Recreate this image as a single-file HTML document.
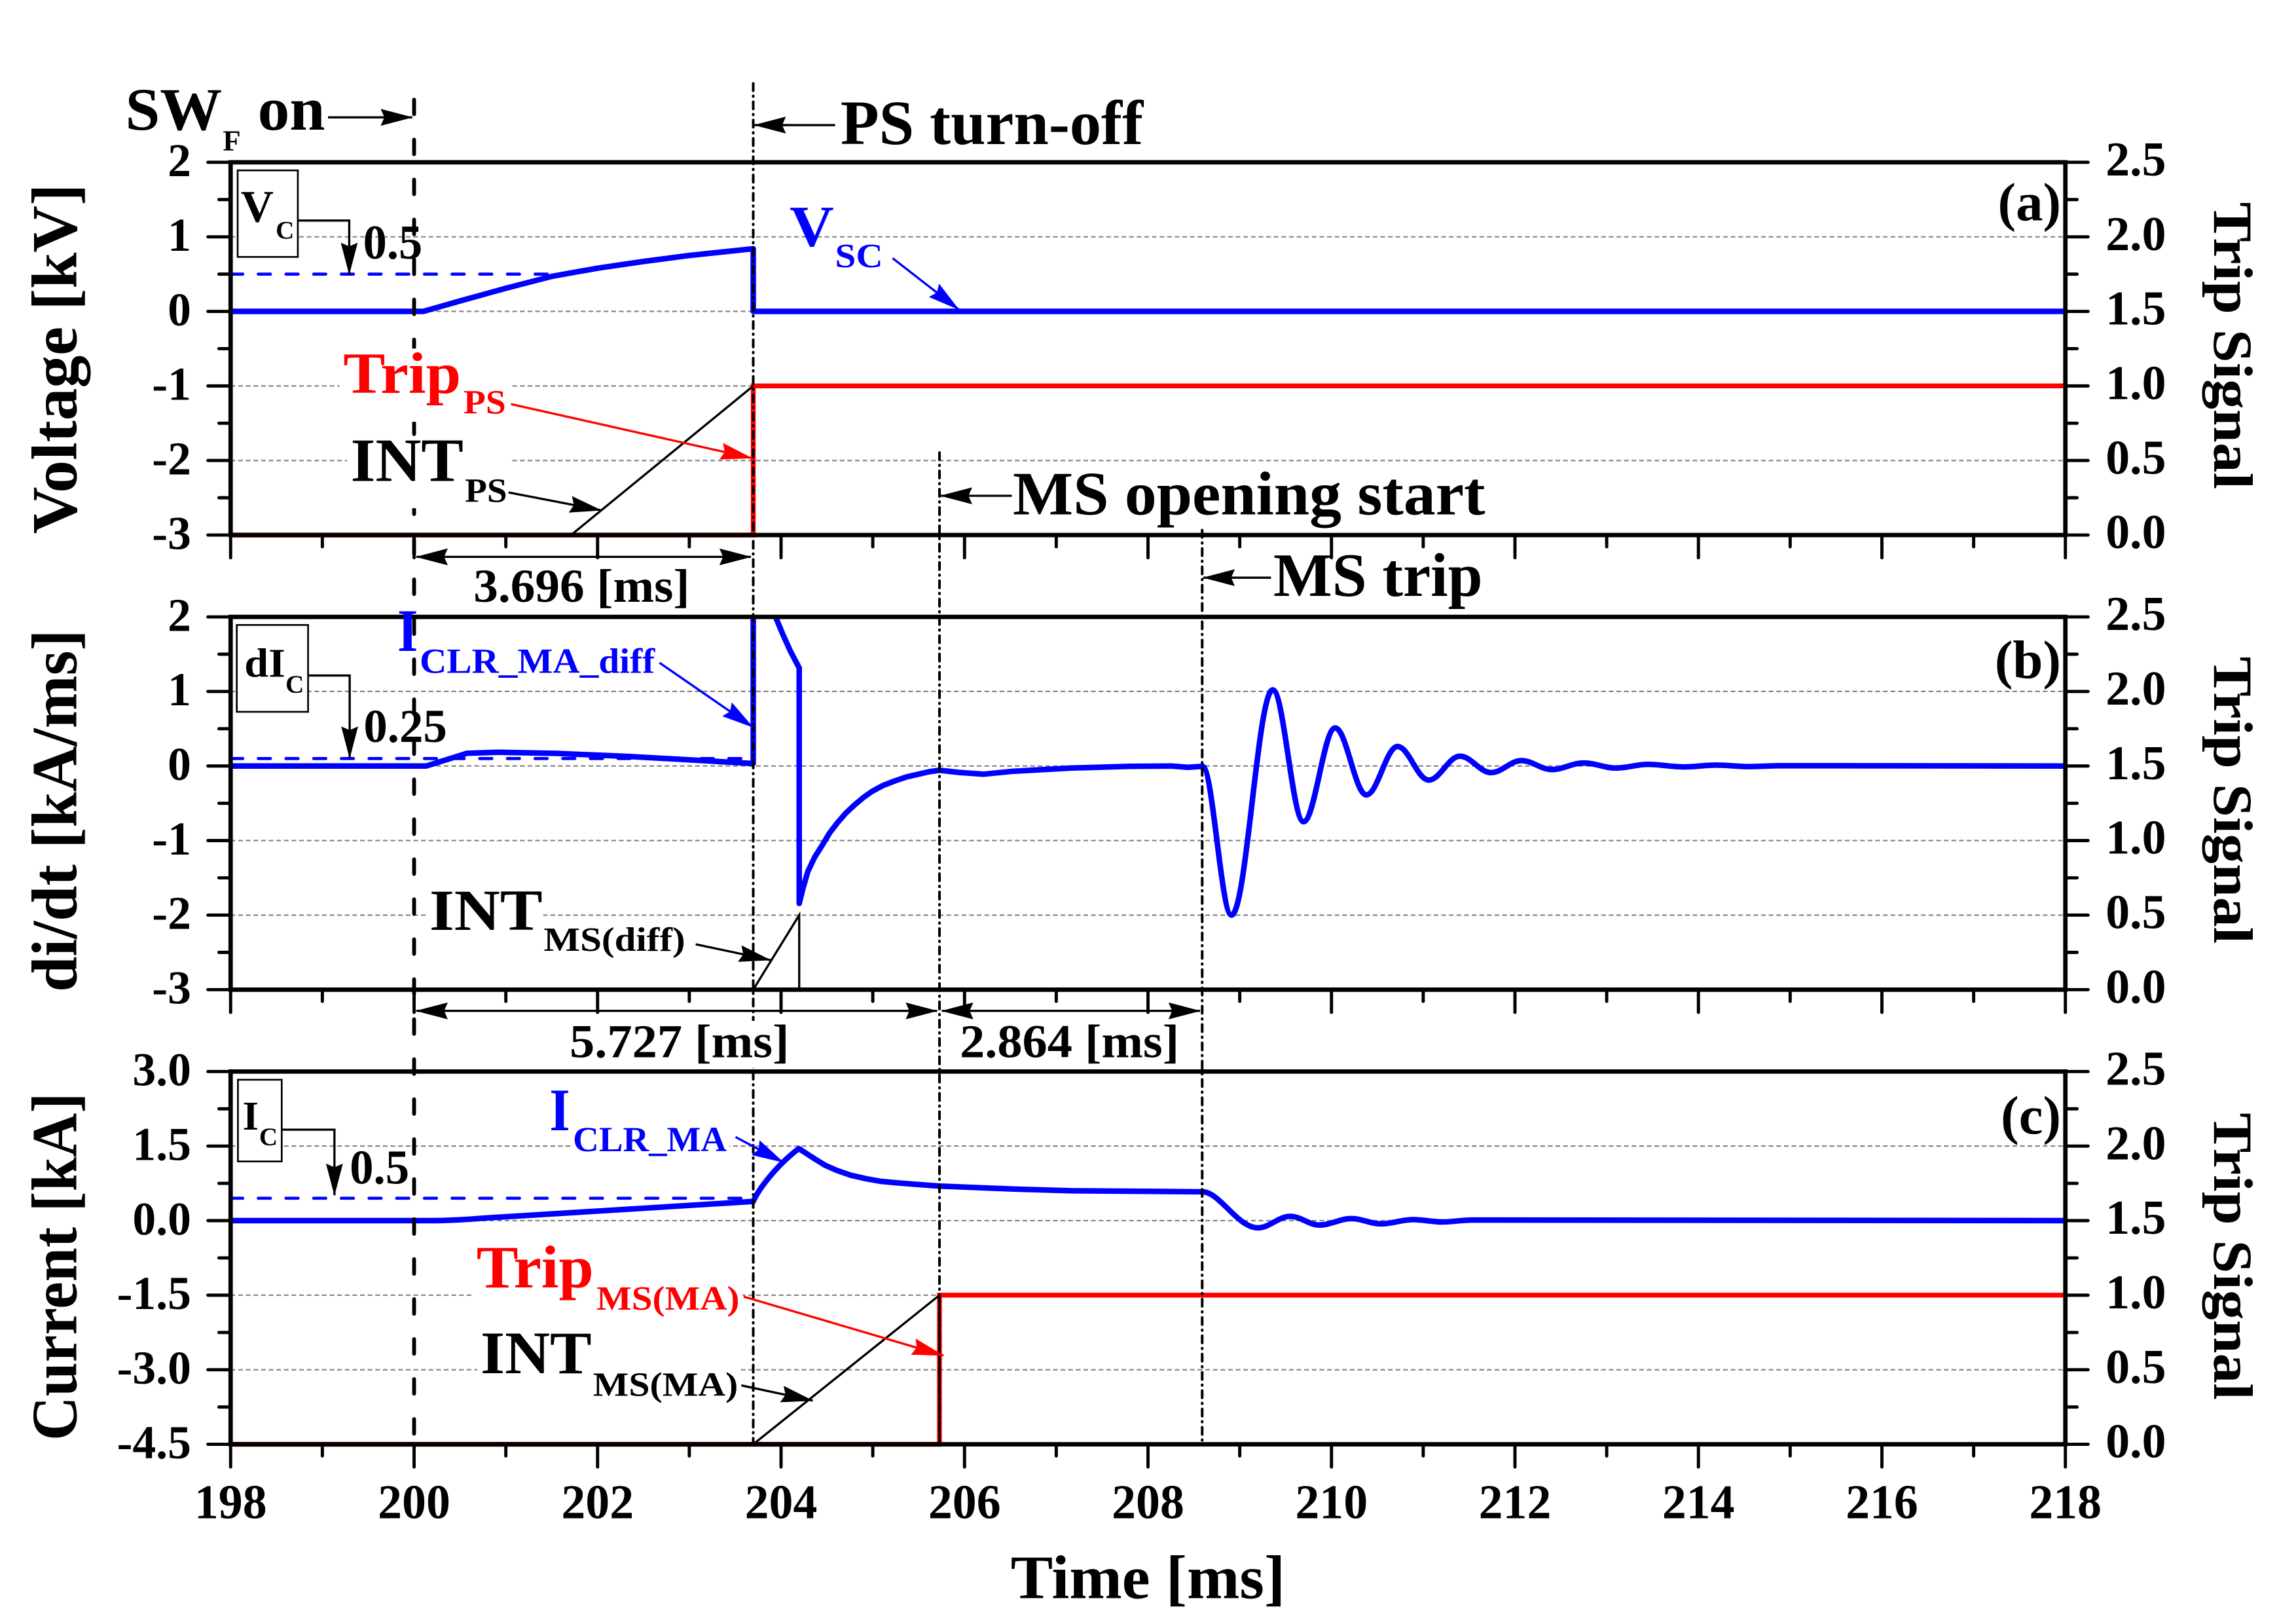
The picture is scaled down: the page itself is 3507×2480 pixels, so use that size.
<!DOCTYPE html>
<html><head><meta charset="utf-8"><style>
html,body{margin:0;padding:0;background:#fff;overflow:hidden}
svg{display:block}
text{font-family:"Liberation Serif",serif;font-weight:bold}
</style></head><body>
<svg xmlns="http://www.w3.org/2000/svg" width="3507" height="2480" viewBox="0 0 1568 1108.8">
<defs>
<marker id="mk" viewBox="0 0 22 11.5" markerUnits="userSpaceOnUse" markerWidth="22" markerHeight="11.5" refX="21.5" refY="5.75" orient="auto-start-reverse"><path d="M0,0L22,5.75L0,11.5L2.5,5.75z" fill="#000"/></marker>
<marker id="mr" viewBox="0 0 22 11.5" markerUnits="userSpaceOnUse" markerWidth="22" markerHeight="11.5" refX="21.5" refY="5.75" orient="auto-start-reverse"><path d="M0,0L22,5.75L0,11.5L2.5,5.75z" fill="#f00"/></marker>
<marker id="mb" viewBox="0 0 22 11.5" markerUnits="userSpaceOnUse" markerWidth="22" markerHeight="11.5" refX="21.5" refY="5.75" orient="auto-start-reverse"><path d="M0,0L22,5.75L0,11.5L2.5,5.75z" fill="#00f"/></marker>
<clipPath id="cb"><rect x="157.5" y="421.2" width="1253" height="254.5"/></clipPath>
<g id="grid" fill="none" stroke="#888" stroke-width="1" stroke-dasharray="3.2 2"><path d="M157.5,50.9H1410.5M157.5,101.8H1410.5M157.5,152.7H1410.5M157.5,203.6H1410.5"/></g>
<g id="frame" fill="none" stroke="#000">
<rect x="157.5" y="0" width="1253" height="254.5" stroke-width="3"/>
<path stroke-width="2.2" stroke-linecap="round" d="M142,0H157.5M142,50.9H157.5M142,101.8H157.5M142,152.7H157.5M142,203.6H157.5M142,254.5H157.5M149.5,25.45H157.5M149.5,76.35H157.5M149.5,127.25H157.5M149.5,178.15H157.5M149.5,229.05H157.5M1410.5,0H1426M1410.5,50.9H1426M1410.5,101.8H1426M1410.5,152.7H1426M1410.5,203.6H1426M1410.5,254.5H1426M1410.5,25.45H1418.5M1410.5,76.35H1418.5M1410.5,127.25H1418.5M1410.5,178.15H1418.5M1410.5,229.05H1418.5M157.5,254.5V270M220.15,254.5V262.5M282.8,254.5V270M345.45,254.5V262.5M408.1,254.5V270M470.75,254.5V262.5M533.4,254.5V270M596.05,254.5V262.5M658.7,254.5V270M721.35,254.5V262.5M784,254.5V270M846.65,254.5V262.5M909.3,254.5V270M971.95,254.5V262.5M1034.6,254.5V270M1097.25,254.5V262.5M1159.9,254.5V270M1222.55,254.5V262.5M1285.2,254.5V270M1347.85,254.5V262.5M1410.5,254.5V270"/>
</g>
</defs>
<rect x="0" y="0" width="1568" height="1108.8" fill="#fff"/>

<!-- grids -->
<use href="#grid" transform="translate(0,110.8)"/>
<use href="#grid" transform="translate(0,421.2)"/>
<use href="#grid" transform="translate(0,731.6)"/>

<!-- Panel a data -->
<path d="M157.5,187.15H376" fill="none" stroke="#00f" stroke-width="2.1" stroke-linecap="round" stroke-dasharray="8.3 10.6"/>
<path d="M157.5,365.3H514.4V263.5H1410.5" fill="none" stroke="#f00" stroke-width="3.3"/>
<path d="M390,365.3L514.4,263.5" fill="none" stroke="#000" stroke-width="1.5"/>
<path d="M157.5,212.6H289.1L314.1,205.5L345.5,196.8L376.8,188.7L408.1,183.1L439.5,178.5L470.8,174.4L514.4,169.8V212.6H1410.5" fill="none" stroke="#00f" stroke-width="3.8" stroke-linejoin="round"/>

<!-- Panel b data -->
<path d="M157.5,517.9H514" fill="none" stroke="#00f" stroke-width="2.1" stroke-linecap="round" stroke-dasharray="8.3 10.6"/>
<path d="M157.5,675.7H1410.5" fill="none" stroke="#f00" stroke-width="3"/>
<path d="M514.4,675.7L545.8,624.8V675.7" fill="none" stroke="#000" stroke-width="1.5"/>
<g clip-path="url(#cb)">
<path d="M157.5,523H291L319,514.3L340,513.6L380,514.4L430,516.5L480,519.3L514.4,521.3V380L525,380L529.7,421.3L535,434L540,445L545.8,456V616.8L548.5,606L551.7,595L556.5,585L561.7,576.8L566.5,568.8L571.7,562L577.5,555.3L583.7,549.5L589.5,544.6L595.6,540.3L603,536.3L611.6,533L619,530.5L627.6,528.5L634,527L641.6,525.9L655,527.4L671.5,528.6L691.5,526.6L731.4,524.4L771.3,523.2L800,523L811.2,523.9L821.2,523.2C828.3,523.2 833.9,624.8 841,624.8C851.2,624.8 859,471 869.2,471C876.8,471 882.6,561 890.2,561C898,561 904,497 911.8,497C919.5,497 925.4,542.7 933.1,542.7C940.8,542.7 946.7,509.7 954.4,509.7C962.1,509.7 968,532.6 975.7,532.6C983.4,532.6 989.3,516.3 997,516.3C1004.7,516.3 1010.6,527.5 1018.3,527.5C1025.8,527.5 1031.5,519.3 1039,519.3C1046.5,519.3 1052.2,525.4 1059.7,525.4C1067.6,525.4 1073.7,520.9 1081.6,520.9C1089.5,520.9 1095.6,524.4 1103.5,524.4C1111.4,524.4 1117.5,521.9 1125.4,521.9C1134.3,521.9 1141.1,523.6 1150,523.6C1158,523.6 1164,522.4 1172,522.4C1180,522.4 1186,523.4 1194,523.4C1202,523.4 1208,522.8 1216,522.8L1410.5,523" fill="none" stroke="#00f" stroke-width="3.8" stroke-linejoin="round"/>
</g>

<!-- Panel c data -->
<path d="M157.5,818.1H514" fill="none" stroke="#00f" stroke-width="2.1" stroke-linecap="round" stroke-dasharray="8.3 10.6"/>
<path d="M157.5,986.1H641.6V884.3H1410.5" fill="none" stroke="#f00" stroke-width="3.3"/>
<path d="M514.4,986.1L641.6,884.3V986.1" fill="none" stroke="#000" stroke-width="1.5"/>
<path d="M157.5,833.4H295Q310,833.3 330,831.7L514.4,820.3C518,812 530,796 545.5,784.2L555.7,790.8L563.5,795.6L571.7,799.2L581,802.4L591.6,804.8L601,806.5L611.6,807.5L625,808.6L641.6,809.8L691.5,811.8L731.4,813L821.2,813.7C833,813.7 845,838.3 859.1,838.3C867,838.3 873,830.5 881.1,830.5C888.3,830.5 893.9,836.4 901.1,836.4C909,836.4 915,832 923,832C930,832 936,835.6 943,835.6C951,835.6 957,832.7 964.9,832.7C972,832.7 978,834.3 985,834.3C992,834.3 998,833 1005,833L1410.5,833.4" fill="none" stroke="#00f" stroke-width="3.8" stroke-linejoin="round"/>

<!-- reference vertical lines -->
<path d="M282.8,68V986.1" fill="none" stroke="#000" stroke-width="2.6" stroke-linecap="round" stroke-dasharray="10 17.3"/>
<path d="M514.4,57V986.1" fill="none" stroke="#000" stroke-width="1.8" stroke-linecap="round" stroke-dasharray="4.9 3.6 0.4 3.6"/>
<path d="M641.6,309V986.1" fill="none" stroke="#000" stroke-width="1.8" stroke-linecap="round" stroke-dasharray="4.9 3.6 0.4 3.6"/>
<path d="M821,362V986.1" fill="none" stroke="#000" stroke-width="1.8" stroke-linecap="round" stroke-dasharray="4.9 3.6 0.4 3.6"/>

<!-- frames -->
<use href="#frame" transform="translate(0,110.8)"/>
<use href="#frame" transform="translate(0,421.2)"/>
<use href="#frame" transform="translate(0,731.6)"/>

<!-- white backgrounds behind labels -->
<g fill="#fff">
<rect x="232" y="238" width="116" height="50"/>
<rect x="237" y="298" width="112" height="49"/>
<rect x="291" y="603" width="80" height="38"/>
<rect x="388" y="697" width="152" height="32"/>
<rect x="323" y="848" width="184" height="52"/>
<rect x="326" y="905" width="180" height="52"/>
<rect x="390" y="770" width="108" height="20"/>
</g>

<!-- Left tick labels -->
<g font-size="32" text-anchor="end">
<text x="130.5" y="120.3">2</text><text x="130.5" y="171.2">1</text><text x="130.5" y="222.1">0</text><text x="130.5" y="273">-1</text><text x="130.5" y="323.9">-2</text><text x="130.5" y="374.8">-3</text>
<text x="130.5" y="430.7">2</text><text x="130.5" y="481.6">1</text><text x="130.5" y="532.5">0</text><text x="130.5" y="583.4">-1</text><text x="130.5" y="634.3">-2</text><text x="130.5" y="685.2">-3</text>
<text x="130.5" y="741.1">3.0</text><text x="130.5" y="792">1.5</text><text x="130.5" y="842.9">0.0</text><text x="130.5" y="893.8">-1.5</text><text x="130.5" y="944.7">-3.0</text><text x="130.5" y="995.6">-4.5</text>
</g>
<!-- Right tick labels -->
<g font-size="33">
<text x="1438" y="119.8">2.5</text><text x="1438" y="170.7">2.0</text><text x="1438" y="221.6">1.5</text><text x="1438" y="272.5">1.0</text><text x="1438" y="323.4">0.5</text><text x="1438" y="374.3">0.0</text>
<text x="1438" y="430.2">2.5</text><text x="1438" y="481.1">2.0</text><text x="1438" y="532">1.5</text><text x="1438" y="582.9">1.0</text><text x="1438" y="633.8">0.5</text><text x="1438" y="684.7">0.0</text>
<text x="1438" y="740.6">2.5</text><text x="1438" y="791.5">2.0</text><text x="1438" y="842.4">1.5</text><text x="1438" y="893.3">1.0</text><text x="1438" y="944.2">0.5</text><text x="1438" y="995.1">0.0</text>
</g>
<!-- X tick labels -->
<g font-size="33" text-anchor="middle">
<text x="157.5" y="1036.7">198</text><text x="282.8" y="1036.7">200</text><text x="408.1" y="1036.7">202</text><text x="533.4" y="1036.7">204</text><text x="658.7" y="1036.7">206</text><text x="784" y="1036.7">208</text><text x="909.3" y="1036.7">210</text><text x="1034.6" y="1036.7">212</text><text x="1159.9" y="1036.7">214</text><text x="1285.2" y="1036.7">216</text><text x="1410.5" y="1036.7">218</text>
</g>
<text x="784" y="1091.2" font-size="42" text-anchor="middle" textLength="187.5" lengthAdjust="spacingAndGlyphs">Time [ms]</text>

<!-- Axis titles -->
<text transform="translate(52,245) rotate(-90)" font-size="44" text-anchor="middle" textLength="239" lengthAdjust="spacingAndGlyphs">Voltage [kV]</text>
<text transform="translate(52,553.5) rotate(-90)" font-size="44" text-anchor="middle" textLength="247.5" lengthAdjust="spacingAndGlyphs">di/dt [kA/ms]</text>
<text transform="translate(52,864.8) rotate(-90)" font-size="44" text-anchor="middle" textLength="237.6" lengthAdjust="spacingAndGlyphs">Current [kA]</text>
<text transform="translate(1512,236) rotate(90)" font-size="38" text-anchor="middle" textLength="196" lengthAdjust="spacingAndGlyphs">Trip Signal</text>
<text transform="translate(1512,546.3) rotate(90)" font-size="38" text-anchor="middle" textLength="196" lengthAdjust="spacingAndGlyphs">Trip Signal</text>
<text transform="translate(1512,857.8) rotate(90)" font-size="38" text-anchor="middle" textLength="196" lengthAdjust="spacingAndGlyphs">Trip Signal</text>

<!-- panel letters -->
<g font-size="37" text-anchor="end">
<text x="1407.5" y="150.5">(a)</text>
<text x="1407.5" y="463">(b)</text>
<text x="1407.5" y="774">(c)</text>
</g>

<!-- Top annotations -->
<text x="85.6" y="88.6" font-size="41" textLength="66" lengthAdjust="spacingAndGlyphs">SW</text>
<text x="152.2" y="102.7" font-size="20">F</text>
<text x="176" y="88.6" font-size="42" textLength="46" lengthAdjust="spacingAndGlyphs">on</text>
<line x1="224" y1="80.1" x2="281.5" y2="80.1" stroke="#000" stroke-width="1.5" marker-end="url(#mk)"/>
<text x="574" y="98.4" font-size="43" textLength="206.7" lengthAdjust="spacingAndGlyphs">PS turn-off</text>
<line x1="570.3" y1="85.4" x2="515.2" y2="85.4" stroke="#000" stroke-width="1.5" marker-end="url(#mk)"/>
<text x="691.7" y="351.3" font-size="42" textLength="322.6" lengthAdjust="spacingAndGlyphs">MS opening start</text>
<line x1="691" y1="338.5" x2="642.4" y2="338.5" stroke="#000" stroke-width="1.5" marker-end="url(#mk)"/>
<text x="869.6" y="406.9" font-size="42" textLength="142.9" lengthAdjust="spacingAndGlyphs">MS trip</text>
<line x1="868" y1="394.4" x2="821.8" y2="394.4" stroke="#000" stroke-width="1.5" marker-end="url(#mk)"/>

<!-- dimension arrows -->
<line x1="284.3" y1="380.2" x2="512.8" y2="380.2" stroke="#000" stroke-width="1.5" marker-start="url(#mk)" marker-end="url(#mk)"/>
<text x="323.4" y="410.8" font-size="32" textLength="147.6" lengthAdjust="spacingAndGlyphs">3.696 [ms]</text>
<line x1="284.3" y1="690.2" x2="640" y2="690.2" stroke="#000" stroke-width="1.5" marker-start="url(#mk)" marker-end="url(#mk)"/>
<text x="389" y="721.8" font-size="32" textLength="150" lengthAdjust="spacingAndGlyphs">5.727 [ms]</text>
<line x1="643.2" y1="690.2" x2="819.5" y2="690.2" stroke="#000" stroke-width="1.5" marker-start="url(#mk)" marker-end="url(#mk)"/>
<text x="655.5" y="721.8" font-size="32" textLength="149.8" lengthAdjust="spacingAndGlyphs">2.864 [ms]</text>

<!-- Panel a annotations -->
<rect x="162.3" y="116.3" width="41.1" height="59.1" fill="#fff" stroke="#000" stroke-width="1.2"/>
<text x="164.5" y="151.4" font-size="31">V</text>
<text x="188.3" y="163" font-size="17.5">C</text>
<polyline points="203.4,150.6 238.5,150.6 238.5,187.2" fill="none" stroke="#000" stroke-width="1.5" marker-end="url(#mk)"/>
<text x="248" y="176.6" font-size="33" textLength="40.5" lengthAdjust="spacingAndGlyphs">0.5</text>
<text x="234.4" y="268.2" font-size="40" fill="#f00" textLength="80.4" lengthAdjust="spacingAndGlyphs">Trip</text>
<text x="316.5" y="282.3" font-size="23" fill="#f00" textLength="29" lengthAdjust="spacingAndGlyphs">PS</text>
<line x1="349" y1="275.9" x2="513.5" y2="312.8" stroke="#f00" stroke-width="1.5" marker-end="url(#mr)"/>
<text x="239.5" y="328.5" font-size="42" textLength="77" lengthAdjust="spacingAndGlyphs">INT</text>
<text x="317.5" y="342.6" font-size="23" textLength="28.8" lengthAdjust="spacingAndGlyphs">PS</text>
<line x1="347.3" y1="336.2" x2="410.6" y2="348.4" stroke="#000" stroke-width="1.5" marker-end="url(#mk)"/>
<text x="539.2" y="167.8" font-size="40" fill="#00f" textLength="30.3" lengthAdjust="spacingAndGlyphs">V</text>
<text x="570.3" y="182.4" font-size="23" fill="#00f" textLength="32.7" lengthAdjust="spacingAndGlyphs">SC</text>
<line x1="609.6" y1="176.3" x2="654.8" y2="211.4" stroke="#00f" stroke-width="1.5" marker-end="url(#mb)"/>

<!-- Panel b annotations -->
<rect x="161.7" y="426.7" width="48.7" height="59.3" fill="#fff" stroke="#000" stroke-width="1.2"/>
<text x="166.9" y="462" font-size="28" textLength="28" lengthAdjust="spacingAndGlyphs">dI</text>
<text x="195" y="473" font-size="17.5">C</text>
<polyline points="210.4,461.2 238.8,461.2 238.8,517.5" fill="none" stroke="#000" stroke-width="1.5" marker-end="url(#mk)"/>
<text x="248.3" y="506.6" font-size="32" textLength="57" lengthAdjust="spacingAndGlyphs">0.25</text>
<text x="271.4" y="444.5" font-size="41" fill="#00f" textLength="14" lengthAdjust="spacingAndGlyphs">I</text>
<text x="286.6" y="459.4" font-size="24" fill="#00f" textLength="160.6" lengthAdjust="spacingAndGlyphs">CLR_MA_diff</text>
<line x1="450.4" y1="452.5" x2="514.2" y2="496.5" stroke="#00f" stroke-width="1.5" marker-end="url(#mb)"/>
<text x="293.3" y="634.9" font-size="40" textLength="77.2" lengthAdjust="spacingAndGlyphs">INT</text>
<text x="371.3" y="649.2" font-size="23" textLength="96.7" lengthAdjust="spacingAndGlyphs">MS(diff)</text>
<line x1="475.1" y1="644.7" x2="526.2" y2="655.5" stroke="#000" stroke-width="1.5" marker-end="url(#mk)"/>

<!-- Panel c annotations -->
<rect x="162.5" y="737.2" width="29.9" height="55.8" fill="#fff" stroke="#000" stroke-width="1.2"/>
<text x="165.7" y="771.3" font-size="28">I</text>
<text x="177" y="781.9" font-size="17.5">C</text>
<polyline points="192.4,771.3 228.4,771.3 228.4,816" fill="none" stroke="#000" stroke-width="1.5" marker-end="url(#mk)"/>
<text x="238.8" y="808.2" font-size="33" textLength="40.7" lengthAdjust="spacingAndGlyphs">0.5</text>
<text x="375.3" y="771.8" font-size="41" fill="#00f" textLength="14" lengthAdjust="spacingAndGlyphs">I</text>
<text x="391.3" y="786" font-size="24" fill="#00f" textLength="105" lengthAdjust="spacingAndGlyphs">CLR_MA</text>
<line x1="502.3" y1="776.3" x2="535" y2="793.6" stroke="#00f" stroke-width="1.5" marker-end="url(#mb)"/>
<text x="325.4" y="878.9" font-size="41" fill="#f00" textLength="80" lengthAdjust="spacingAndGlyphs">Trip</text>
<text x="407.3" y="894.2" font-size="23" fill="#f00" textLength="97.7" lengthAdjust="spacingAndGlyphs">MS(MA)</text>
<line x1="507.9" y1="885.3" x2="644.3" y2="925.5" stroke="#f00" stroke-width="1.5" marker-end="url(#mr)"/>
<text x="328.2" y="937.5" font-size="41" textLength="75.8" lengthAdjust="spacingAndGlyphs">INT</text>
<text x="405" y="952.9" font-size="23" textLength="99" lengthAdjust="spacingAndGlyphs">MS(MA)</text>
<line x1="506.3" y1="945.9" x2="555" y2="956.3" stroke="#000" stroke-width="1.5" marker-end="url(#mk)"/>
</svg>
</body></html>
